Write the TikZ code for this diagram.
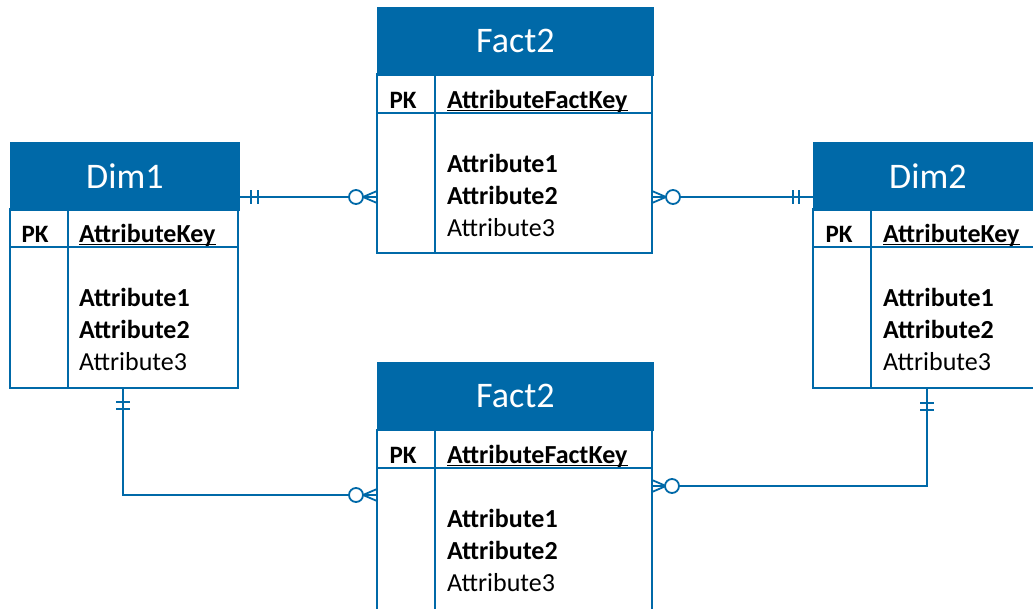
\documentclass[tikz,border=0pt]{standalone}
\usepackage{fontspec}
\setmainfont{Carlito}
\definecolor{erblue}{HTML}{0069A8}
\tikzset{
  tbl/.style={draw=erblue, line width=1.8pt},
  hdr/.style={draw=erblue, fill=erblue, line width=1.8pt, inner sep=0pt, minimum height=67pt, text=white, font=\fontsize{36}{40}\selectfont},
  pktext/.style={anchor=base, inner sep=0pt, font=\fontsize{25}{30}\selectfont\bfseries},
  attr/.style={anchor=base west, inner sep=0pt, font=\fontsize{26}{30}\selectfont},
  battr/.style={anchor=base west, inner sep=0pt, font=\fontsize{26}{30}\selectfont\bfseries},
  uline/.style={draw=black, line width=1.4pt},
  conn/.style={draw=erblue, line width=1.8pt},
  ring/.style={draw=erblue, fill=white, line width=1.8pt}
}
\begin{document}
\begin{tikzpicture}[x=1pt,y=-1pt]
\useasboundingbox (0,0) rectangle (1033,608);
% Dim1
\begin{scope}[shift={(10,142)}]
  \node[hdr, minimum width=228pt, anchor=north west] (dimA) at (0,0) {Dim1};
  \draw[tbl] (0,67) rectangle (228,246);
  \draw[tbl] (0,105) -- (228,105);
  \draw[tbl] (58,67) -- (58,246);
  \node[pktext] (dimApk) at (25,100) {PK};
  \node[battr] (dimAkey) at (69,100) {AttributeKey};
  \node[battr] (dimAa) at (69,164) {Attribute1};
  \node[battr] (dimAb) at (69,196) {Attribute2};
  \node[attr] (dimAc) at (69,228) {Attribute3};
\end{scope}
\draw[uline] ([yshift=-2.2pt]dimAkey.base west) -- ([yshift=-2.2pt]dimAkey.base east);
% Dim2
\begin{scope}[shift={(813,142)}]
  \node[hdr, minimum width=228pt, anchor=north west] (dimB) at (0,0) {Dim2};
  \draw[tbl] (0,67) rectangle (228,246);
  \draw[tbl] (0,105) -- (228,105);
  \draw[tbl] (58,67) -- (58,246);
  \node[pktext] (dimBpk) at (26,100) {PK};
  \node[battr] (dimBkey) at (70,100) {AttributeKey};
  \node[battr] (dimBa) at (70,164) {Attribute1};
  \node[battr] (dimBb) at (70,196) {Attribute2};
  \node[attr] (dimBc) at (70,228) {Attribute3};
\end{scope}
\draw[uline] ([yshift=-2.2pt]dimBkey.base west) -- ([yshift=-2.2pt]dimBkey.base east);
% Fact2 (top)
\begin{scope}[shift={(377,7)}]
  \node[hdr, minimum width=275pt, anchor=north west] (factA) at (0,0) {Fact2};
  \draw[tbl] (0,67) rectangle (275,246);
  \draw[tbl] (0,106) -- (275,106);
  \draw[tbl] (58,67) -- (58,246);
  \node[pktext] (factApk) at (26,101) {PK};
  \node[battr] (factAkey) at (70,101) {AttributeFactKey};
  \node[battr] (factAa) at (70,165) {Attribute1};
  \node[battr] (factAb) at (70,197) {Attribute2};
  \node[attr] (factAc) at (70,229) {Attribute3};
\end{scope}
\draw[uline] ([yshift=-2.2pt]factAkey.base west) -- ([yshift=-2.2pt]factAkey.base east);
% Fact2 (bottom)
\begin{scope}[shift={(377,362)}]
  \node[hdr, minimum width=275pt, anchor=north west] (factB) at (0,0) {Fact2};
  \draw[tbl] (0,67) -- (0,260);
  \draw[tbl] (275,67) -- (275,260);
  \draw[tbl] (0,106) -- (275,106);
  \draw[tbl] (58,67) -- (58,260);
  \node[pktext] (factBpk) at (26,101) {PK};
  \node[battr] (factBkey) at (70,101) {AttributeFactKey};
  \node[battr] (factBa) at (70,165) {Attribute1};
  \node[battr] (factBb) at (70,197) {Attribute2};
  \node[attr] (factBc) at (70,229) {Attribute3};
\end{scope}
\draw[uline] ([yshift=-2.2pt]factBkey.base west) -- ([yshift=-2.2pt]factBkey.base east);
% connector end points
\coordinate (c1a) at (238,197);
\coordinate (c1b) at (377,197);
\coordinate (c2a) at (652,197);
\coordinate (c2b) at (813,197);
\coordinate (c3a) at (123,388);
\coordinate (c3k) at (123,495);
\coordinate (c3b) at (377,495);
\coordinate (c4a) at (927,388);
\coordinate (c4k) at (927,486);
\coordinate (c4b) at (652,486);
% lines
\draw[conn] (c1a) -- (c1b);
\draw[conn] (c2a) -- (c2b);
\draw[conn] (c3a) -- (c3k) -- (c3b);
\draw[conn] (c4a) -- (c4k) -- (c4b);
% one-and-only-one bars
\draw[conn] (251,190) -- (251,204) (258,190) -- (258,204);
\draw[conn] (793,190) -- (793,204) (799,190) -- (799,204);
\draw[conn] (116,402) -- (130,402) (116,409) -- (130,409);
\draw[conn] (920,403) -- (934,403) (920,410) -- (934,410);
% crow's feet
\draw[conn] (377,191) -- (363,197) -- (377,203);
\draw[conn] (652,191) -- (666,197) -- (652,203);
\draw[conn] (377,489) -- (363,495) -- (377,501);
\draw[conn] (652,480) -- (666,486) -- (652,492);
% zero rings
\draw[ring] (356,197) circle (7);
\draw[ring] (673,197) circle (7);
\draw[ring] (356,495) circle (7);
\draw[ring] (672,486) circle (7);
\end{tikzpicture}
\end{document}
